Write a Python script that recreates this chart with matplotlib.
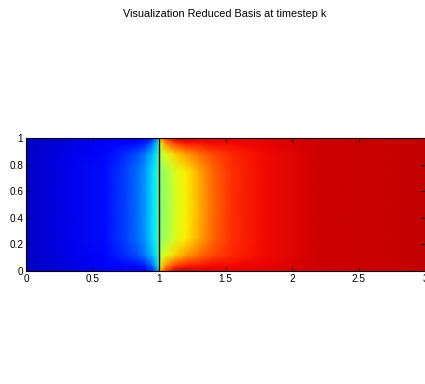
import numpy as np
import matplotlib
matplotlib.use("Agg")
import matplotlib.pyplot as plt

plt.rcParams['font.family'] = ['Liberation Sans', 'DejaVu Sans']

# Sampled field values (jet colour scale, 0..1) on the two subdomains
y_nodes = [0.0, 0.04, 0.12, 0.25, 0.5, 0.75, 0.88, 0.96, 1.0]

x_left = [0.0, 0.3, 0.6, 0.75, 0.85, 0.9, 0.95, 1.0]
u_left = [
    [0.06, 0.08, 0.10, 0.11, 0.11, 0.12, 0.16, 0.30],
    [0.06, 0.08, 0.11, 0.13, 0.14, 0.16, 0.23, 0.36],
    [0.06, 0.09, 0.13, 0.17, 0.21, 0.25, 0.31, 0.40],
    [0.06, 0.09, 0.14, 0.19, 0.24, 0.28, 0.34, 0.42],
    [0.06, 0.09, 0.14, 0.19, 0.24, 0.28, 0.34, 0.42],
    [0.06, 0.09, 0.14, 0.19, 0.24, 0.28, 0.34, 0.42],
    [0.06, 0.09, 0.13, 0.17, 0.21, 0.25, 0.31, 0.40],
    [0.06, 0.08, 0.11, 0.13, 0.14, 0.16, 0.23, 0.36],
    [0.06, 0.08, 0.10, 0.11, 0.11, 0.12, 0.16, 0.30],
]

x_right = [1.0, 1.05, 1.12, 1.2, 1.3, 1.4, 1.55, 1.8, 2.2, 3.0]
u_right = [
    [0.70, 0.85, 0.93, 0.95, 0.93, 0.92, 0.91, 0.92, 0.93, 0.94],
    [0.62, 0.75, 0.84, 0.88, 0.89, 0.90, 0.90, 0.91, 0.93, 0.94],
    [0.55, 0.62, 0.69, 0.74, 0.79, 0.83, 0.87, 0.90, 0.93, 0.94],
    [0.51, 0.55, 0.61, 0.66, 0.73, 0.80, 0.86, 0.90, 0.93, 0.94],
    [0.50, 0.54, 0.60, 0.65, 0.72, 0.79, 0.86, 0.90, 0.93, 0.94],
    [0.51, 0.55, 0.61, 0.66, 0.73, 0.80, 0.86, 0.90, 0.93, 0.94],
    [0.55, 0.62, 0.69, 0.74, 0.79, 0.83, 0.87, 0.90, 0.93, 0.94],
    [0.62, 0.75, 0.84, 0.88, 0.89, 0.90, 0.90, 0.91, 0.93, 0.94],
    [0.70, 0.85, 0.93, 0.95, 0.93, 0.92, 0.91, 0.92, 0.93, 0.94],
]

x_ticks = [0, 0.5, 1, 1.5, 2, 2.5, 3]
x_tick_labels = ['0', '0.5', '1', '1.5', '2', '2.5', '3']
y_ticks = [0, 0.2, 0.4, 0.6, 0.8, 1]
y_tick_labels = ['0', '0.2', '0.4', '0.6', '0.8', '1']
interface_x = 1.0

fig = plt.figure(figsize=(4.25, 3.84), dpi=100)
ax = fig.add_axes([26 / 425, 113 / 384, 399 / 425, 133 / 384])

for xs, us in ((x_left, u_left), (x_right, u_right)):
    X, Y = np.meshgrid(xs, y_nodes)
    ax.pcolormesh(X, Y, np.array(us), cmap='jet', vmin=0, vmax=1,
                  shading='gouraud')

ax.axvline(interface_x, color='black', lw=1.0)

ax.set_xlim(0, 3)
ax.set_ylim(0, 1)
ax.set_xticks(x_ticks)
ax.set_xticklabels(x_tick_labels)
ax.set_yticks(y_ticks)
ax.set_yticklabels(y_tick_labels)
ax.tick_params(direction='in', length=3, width=0.6, labelsize=7.2, pad=2,
               top=True, right=True, colors='black')
for s in ax.spines.values():
    s.set_linewidth(0.8)

fig.text(225 / 425, 1 - 14 / 384, 'Visualization Reduced Basis at timestep k',
         ha='center', va='center', fontsize=7.8)

fig.savefig('out.png', dpi=100)
